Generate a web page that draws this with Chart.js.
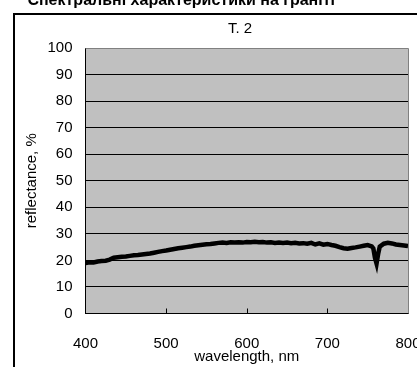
<!DOCTYPE html>
<html><head><meta charset="utf-8">
<script src="https://cdn.jsdelivr.net/npm/chart.js@4/dist/chart.umd.min.js"></script>
<style>html,body{margin:0;padding:0;background:#fff}#wrap{width:417px;height:367px;position:relative;overflow:hidden}</style>
</head><body><div id="wrap"><canvas id="c" width="417" height="367"></canvas></div>
<script>
const headerText = 'Спектральні характеристики на граніті';
const chartTitle = 'T. 2';
const xAxisTitle = 'wavelength, nm';
const yAxisTitle = 'reflectance, %';
const xTicks = [400, 500, 600, 700, 800];
const yTicks = [0, 10, 20, 30, 40, 50, 60, 70, 80, 90, 100];
const wavelengths = [400,405,410,415,420,425,430,435,440,445,450,455,460,465,470,475,480,485,490,495,
  500,505,510,515,520,525,530,535,540,545,550,555,560,565,570,575,580,585,590,595,
  600,605,610,615,620,625,630,635,640,645,650,655,660,665,670,675,680,685,690,695,
  700,705,710,715,720,725,730,735,740,745,750,755,757,759,761,763,765,770,775,780,785,790,795,800];
const reflectance = [19.0,19.3,19.2,19.6,19.8,19.9,20.3,21.0,21.2,21.4,21.5,21.7,21.9,22.0,22.2,22.4,22.6,22.9,23.2,23.5,
  23.7,24.0,24.3,24.6,24.8,25.0,25.2,25.5,25.7,25.9,26.1,26.2,26.4,26.6,26.7,26.6,26.8,26.7,26.8,26.7,
  26.9,26.8,27.0,26.8,26.9,26.7,26.8,26.6,26.7,26.6,26.7,26.5,26.6,26.4,26.5,26.3,26.6,26.0,26.4,25.9,
  26.2,25.8,25.5,25.0,24.6,24.4,24.7,24.9,25.2,25.5,25.8,25.3,24.5,21.0,18.8,22.5,25.2,26.3,26.6,26.4,26.0,25.8,25.6,25.4];

const FONT = "'Liberation Sans', Arial, sans-serif";
const FS = 15;

const deco = {
  id: 'deco',
  beforeDraw(chart) {
    const ctx = chart.ctx, a = chart.chartArea;
    ctx.save();
    ctx.fillStyle = '#fff';
    ctx.fillRect(0, 0, chart.width, chart.height);
    ctx.fillStyle = '#000';
    ctx.font = "bold 16px 'Liberation Sans', Arial, sans-serif";
    ctx.textAlign = 'right';
    ctx.textBaseline = 'alphabetic';
    ctx.fillText(headerText, 335, 5);
    ctx.fillRect(13, 13, 2, chart.height - 13);
    ctx.fillRect(13, 13, chart.width - 13, 2);
    ctx.font = FS + 'px ' + FONT;
    ctx.textAlign = 'center';
    ctx.textBaseline = 'middle';
    ctx.fillText(chartTitle, 240, 29);
    ctx.fillStyle = '#c0c0c0';
    ctx.fillRect(a.left, a.top, a.right - a.left, a.bottom - a.top);
    ctx.restore();
  },
  afterDraw(chart) {
    const ctx = chart.ctx, a = chart.chartArea, xs = chart.scales.x;
    ctx.save();
    ctx.strokeStyle = '#808080';
    ctx.lineWidth = 1;
    ctx.beginPath();
    ctx.moveTo(a.left, a.top + 0.5); ctx.lineTo(a.right + 0.5, a.top + 0.5); ctx.lineTo(a.right + 0.5, a.bottom);
    ctx.stroke();
    ctx.strokeStyle = '#000';
    ctx.beginPath();
    xTicks.slice(1, -1).forEach(v => {
      const px = Math.round(xs.getPixelForValue(v)) + 0.5;
      ctx.moveTo(px, a.bottom); ctx.lineTo(px, a.bottom - 5);
    });
    ctx.stroke();
    ctx.restore();
  }
};

new Chart(document.getElementById('c'), {
  type: 'line',
  data: {
    datasets: [{
      data: wavelengths.map((w, i) => ({x: w, y: reflectance[i]})),
      borderColor: '#000',
      borderWidth: 4.5,
      pointRadius: 0,
      tension: 0,
      fill: false
    }]
  },
  options: {
    responsive: false,
    animation: false,
    layout: {autoPadding: false, padding: {left: 0, right: 9, top: 48, bottom: 0}},
    plugins: {legend: {display: false}, tooltip: {enabled: false}, title: {display: false}},
    scales: {
      x: {
        type: 'linear', min: 400, max: 800,
        afterBuildTicks: s => { s.ticks = xTicks.map(v => ({value: v})); },
        afterFit: s => { s.height = 53.5; s.paddingLeft = 0; s.paddingRight = 0; },
        grid: {display: false, drawTicks: false},
        border: {display: true, color: '#000', width: 1},
        ticks: {color: '#000', font: {family: FONT, size: FS}, padding: 21, maxRotation: 0, autoSkip: false},
        title: {display: true, text: xAxisTitle, color: '#000', font: {family: FONT, size: FS}, padding: {top: 0, bottom: 1}}
      },
      y: {
        min: 0, max: 100,
        afterBuildTicks: s => { s.ticks = yTicks.map(v => ({value: v})); },
        afterFit: s => { s.width = 85.5; s.paddingTop = 0; s.paddingBottom = 0; },
        grid: {drawTicks: false, color: c => (c.tick && c.tick.value === 100) ? '#808080' : '#000', lineWidth: 1},
        border: {display: true, color: '#000', width: 1},
        ticks: {color: '#000', font: {family: FONT, size: FS}, padding: 13},
        title: {display: true, text: yAxisTitle, color: '#000', font: {family: FONT, size: FS}, padding: {top: 23, bottom: 0}}
      }
    }
  },
  plugins: [deco]
});
</script></body></html>
